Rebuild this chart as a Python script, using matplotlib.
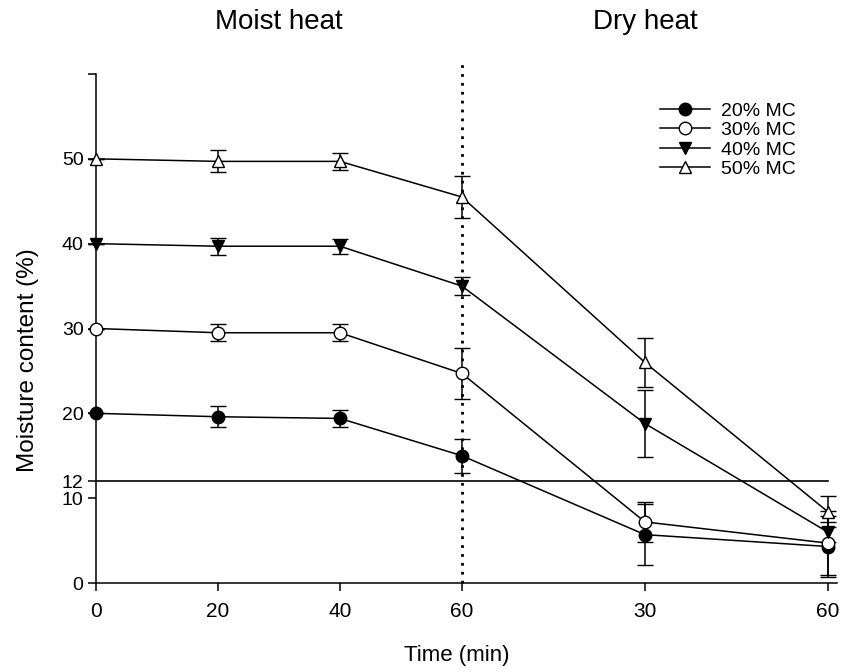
import matplotlib
matplotlib.use("Agg")
import matplotlib.pyplot as plt
from matplotlib.lines import Line2D

# Time points: 0-60 min moist heat, then 30 and 60 min of dry heat
x_pos = [0, 20, 40, 60, 90, 120]
x_tick_labels = ["0", "20", "40", "60", "30", "60"]

labels = ["20% MC", "30% MC", "40% MC", "50% MC"]
mc20 = [20.0, 19.6, 19.4, 15.0, 5.7, 4.3]
mc20_err = [0.0, 1.25, 1.0, 2.0, 3.6, 3.6]
mc30 = [30.0, 29.5, 29.5, 24.7, 7.2, 4.7]
mc30_err = [0.0, 1.0, 1.0, 3.0, 2.4, 3.8]
mc40 = [40.0, 39.7, 39.7, 35.0, 18.8, 6.0]
mc40_err = [0.0, 1.0, 0.9, 1.1, 4.0, 1.2]
mc50 = [50.0, 49.7, 49.7, 45.5, 26.0, 8.4]
mc50_err = [0.0, 1.3, 1.0, 2.5, 2.9, 1.8]

y_ticks = [0, 10, 12, 20, 30, 40, 50, 60]
y_tick_labels = ["0", "10", "12", "20", "30", "40", "50", ""]
threshold = 12

plt.rcParams["font.family"] = ["Liberation Sans", "DejaVu Sans"]

fig = plt.figure(figsize=(8.41, 6.72), dpi=100)
ax = fig.add_axes([96 / 841, 1 - 583 / 672, (837 - 96) / 841, (583 - 74) / 672])

series = [
    (mc20, mc20_err, "o", "black"),
    (mc30, mc30_err, "o", "white"),
    (mc40, mc40_err, "v", "black"),
    (mc50, mc50_err, "^", "white"),
]
handles = []
for vals, errs, mk, fc in series:
    style = dict(color="black", lw=1.1, marker=mk, markersize=9,
                 markerfacecolor=fc, markeredgecolor="black", markeredgewidth=1.0)
    ax.errorbar(x_pos, vals, yerr=errs, capsize=5.5, capthick=1.1,
                elinewidth=1.1, clip_on=False, zorder=3, **style)
    handles.append(Line2D([], [], **style))

ax.plot([0, 120], [threshold, threshold], color="black", lw=1.2, zorder=2)
ax.plot([60, 60], [0, 61.2], color="black", lw=2.0, linestyle=(0, (1, 2.2)),
        clip_on=False, zorder=2)

ax.set_xlim(0, 121.5)
ax.set_ylim(0, 60)
for s in ("top", "right"):
    ax.spines[s].set_visible(False)
for s in ("left", "bottom"):
    ax.spines[s].set_linewidth(1.1)

ax.set_xticks(x_pos)
ax.set_xticklabels(x_tick_labels, fontsize=15)
ax.set_yticks(y_ticks)
ax.set_yticklabels(y_tick_labels, fontsize=14)
ax.tick_params(axis="both", direction="out", length=6, width=1.1, color="black")
ax.tick_params(axis="x", pad=8)
ax.tick_params(axis="y", pad=3)

ax.set_xlabel("Time (min)", fontsize=16)
ax.xaxis.set_label_coords((457 - 96) / 741, -(656 - 583) / 509)
ax.xaxis.label.set_va("center")
ax.set_ylabel("Moisture content (%)", fontsize=17.5)
ax.yaxis.set_label_coords(-(96 - 28) / 741, (583 - 360) / 509)
ax.yaxis.label.set_va("center")

title_y = 1.0 + (74 - 22) / 509
ax.text(30, title_y, "Moist heat", transform=ax.get_xaxis_transform(),
        fontsize=20, ha="center", va="center")
ax.text(90, title_y, "Dry heat", transform=ax.get_xaxis_transform(),
        fontsize=20, ha="center", va="center")

fig.legend(handles=handles, labels=labels, loc="upper left",
           bbox_to_anchor=(660 / 841, 1 - 102 / 672), frameon=False,
           fontsize=14, handlelength=2.55, handletextpad=0.6,
           labelspacing=0.1, borderpad=0, borderaxespad=0)

fig.savefig("out.png", dpi=100)
